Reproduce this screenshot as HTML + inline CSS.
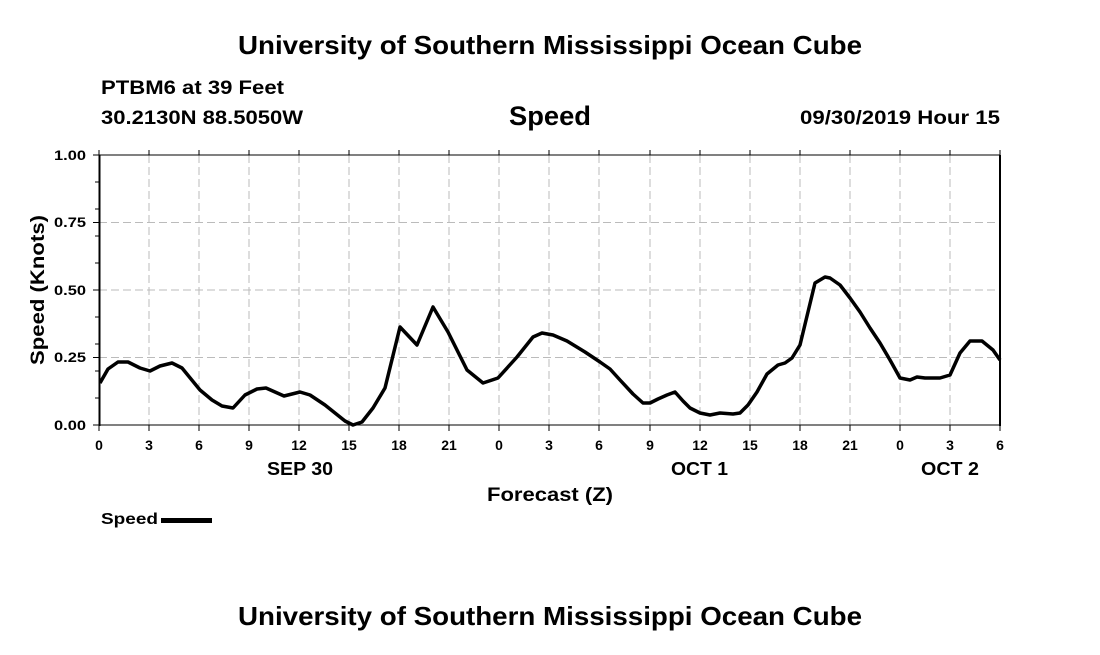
<!DOCTYPE html>
<html><head><style>
body{margin:0;background:#fff;}
svg text{font-family:"Liberation Sans",Arial,sans-serif;font-weight:bold;fill:#000;}
</style></head><body>
<svg width="1100" height="650" xmlns="http://www.w3.org/2000/svg">
<rect width="1100" height="650" fill="#fff"/>
<text x="238" y="54" font-size="26" textLength="624" lengthAdjust="spacingAndGlyphs">University of Southern Mississippi Ocean Cube</text>
<text x="101" y="94" font-size="19" textLength="183" lengthAdjust="spacingAndGlyphs">PTBM6 at 39 Feet</text>
<text x="101" y="124" font-size="19" textLength="202" lengthAdjust="spacingAndGlyphs">30.2130N 88.5050W</text>
<text x="509" y="125" font-size="27" textLength="82" lengthAdjust="spacingAndGlyphs">Speed</text>
<text x="800" y="124" font-size="19" textLength="200" lengthAdjust="spacingAndGlyphs">09/30/2019 Hour 15</text>
<g stroke="#bbb" stroke-width="1" stroke-dasharray="8,4">
<line x1="99" y1="222.5" x2="1000" y2="222.5"/><line x1="99" y1="290" x2="1000" y2="290"/><line x1="99" y1="357.5" x2="1000" y2="357.5"/>
<line x1="149" y1="155" x2="149" y2="425"/><line x1="199" y1="155" x2="199" y2="425"/><line x1="249" y1="155" x2="249" y2="425"/><line x1="299" y1="155" x2="299" y2="425"/><line x1="349" y1="155" x2="349" y2="425"/><line x1="399" y1="155" x2="399" y2="425"/><line x1="449" y1="155" x2="449" y2="425"/><line x1="499" y1="155" x2="499" y2="425"/><line x1="549" y1="155" x2="549" y2="425"/><line x1="599" y1="155" x2="599" y2="425"/><line x1="650" y1="155" x2="650" y2="425"/><line x1="700" y1="155" x2="700" y2="425"/><line x1="750" y1="155" x2="750" y2="425"/><line x1="800" y1="155" x2="800" y2="425"/><line x1="850" y1="155" x2="850" y2="425"/><line x1="900" y1="155" x2="900" y2="425"/><line x1="950" y1="155" x2="950" y2="425"/>
</g>
<g stroke="#000" stroke-width="1">
<line x1="99" y1="155" x2="1000" y2="155"/><line x1="99" y1="425" x2="1000" y2="425"/>
<path d="M93 155H99M93 222.5H99M93 290H99M93 357.5H99M93 425H99M95 182H99M95 209H99M95 236H99M95 263H99M95 317H99M95 344H99M95 371H99M95 398H99"/>
<path d="M99 425v6M149 425v6M199 425v6M249 425v6M299 425v6M349 425v6M399 425v6M449 425v6M499 425v6M549 425v6M599 425v6M650 425v6M700 425v6M750 425v6M800 425v6M850 425v6M900 425v6M950 425v6M1000 425v6"/>
<path d="M99 155v-5M149 155v-5M199 155v-5M249 155v-5M299 155v-5M349 155v-5M399 155v-5M449 155v-5M499 155v-5M549 155v-5M599 155v-5M650 155v-5M700 155v-5M750 155v-5M800 155v-5M850 155v-5M900 155v-5M950 155v-5M1000 155v-5"/>
</g>
<line x1="99.5" y1="155" x2="99.5" y2="426" stroke="#000" stroke-width="2"/>
<line x1="1000" y1="155" x2="1000" y2="426" stroke="#000" stroke-width="2"/>
<g font-size="14" text-anchor="end">
<text x="86" y="160" textLength="32" lengthAdjust="spacingAndGlyphs">1.00</text><text x="86" y="227" textLength="32" lengthAdjust="spacingAndGlyphs">0.75</text><text x="86" y="295" textLength="32" lengthAdjust="spacingAndGlyphs">0.50</text><text x="86" y="362" textLength="32" lengthAdjust="spacingAndGlyphs">0.25</text><text x="86" y="430" textLength="32" lengthAdjust="spacingAndGlyphs">0.00</text>
</g>
<g font-size="14" text-anchor="middle">
<text x="99" y="450">0</text><text x="149" y="450">3</text><text x="199" y="450">6</text><text x="249" y="450">9</text><text x="299" y="450">12</text><text x="349" y="450">15</text><text x="399" y="450">18</text><text x="449" y="450">21</text><text x="499" y="450">0</text><text x="549" y="450">3</text><text x="599" y="450">6</text><text x="650" y="450">9</text><text x="700" y="450">12</text><text x="750" y="450">15</text><text x="800" y="450">18</text><text x="850" y="450">21</text><text x="900" y="450">0</text><text x="950" y="450">3</text><text x="1000" y="450">6</text>
</g>
<g font-size="18">
<text x="267" y="475" textLength="66" lengthAdjust="spacingAndGlyphs">SEP 30</text>
<text x="671" y="475" textLength="57" lengthAdjust="spacingAndGlyphs">OCT 1</text>
<text x="921" y="475" textLength="58" lengthAdjust="spacingAndGlyphs">OCT 2</text>
<text x="487" y="501" font-size="19" textLength="126" lengthAdjust="spacingAndGlyphs">Forecast (Z)</text>
</g>
<text transform="translate(44,365) rotate(-90)" font-size="19" textLength="150" lengthAdjust="spacingAndGlyphs">Speed (Knots)</text>
<polyline fill="none" stroke="#000" stroke-width="3.5" stroke-linejoin="round" points="100,383 108,369 118,362 128,362 140,368 150,371 160,366 172,363 182,368 200,390 212,400 222,406 233,408 245,395 257,389 266,388 284,396 300,392 310,395 325,405 335,413 345,421 353,425 362,422 373,408 385,388 400,327 417,345 433,307 448,332 467,370 483,383 498,378 517,357 533,337 542,333 553,335 567,341 585,352 600,362 610,369 620,380 633,394 643,403 650,403 658,399 667,395 675,392 683,401 690,408 700,413 710,415 720,413 733,414 740,413 748,405 757,392 767,374 778,365 785,363 792,358 800,345 815,283 825,277 830,278 840,285 850,298 860,312 870,328 880,343 890,360 900,378 910,380 917,377 925,378 940,378 950,375 960,353 970,341 982,341 993,350 1000,360"/>
<text x="101" y="524" font-size="16" textLength="57" lengthAdjust="spacingAndGlyphs">Speed</text>
<line x1="161" y1="520.5" x2="212" y2="520.5" stroke="#000" stroke-width="5"/>
<text x="238" y="625" font-size="26" textLength="624" lengthAdjust="spacingAndGlyphs">University of Southern Mississippi Ocean Cube</text>
</svg>
</body></html>
